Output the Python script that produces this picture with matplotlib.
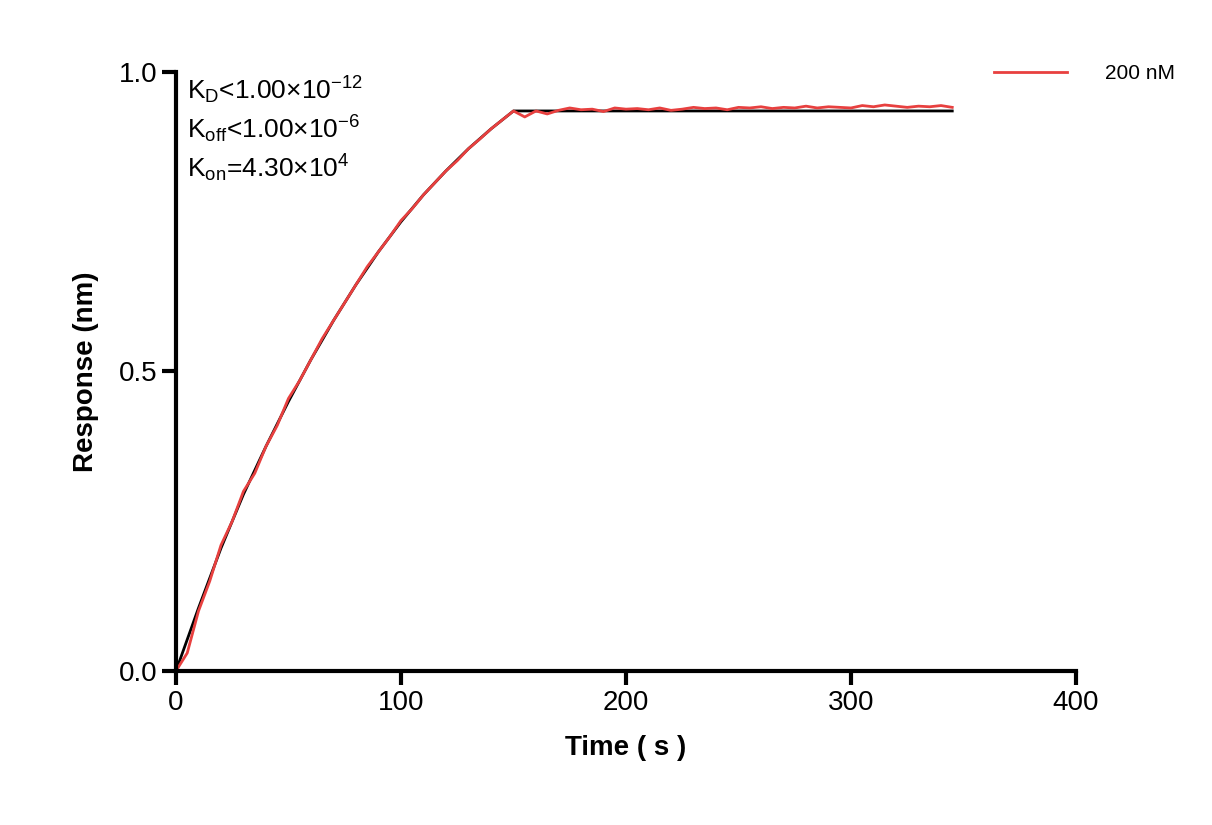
import matplotlib
matplotlib.use("Agg")
import matplotlib.pyplot as plt
plt.rcParams["font.family"] = "Liberation Sans"
plt.rcParams["mathtext.fontset"] = "custom"
plt.rcParams["mathtext.rm"] = "Liberation Sans"
plt.rcParams["mathtext.it"] = "Liberation Sans"

fit_t = [0, 10, 20, 30, 40, 50, 60, 70, 80, 90, 100, 110, 120, 130, 140, 150, 345]
fit_r = [0, 0.105, 0.205, 0.295, 0.375, 0.45, 0.52, 0.585, 0.645, 0.70, 0.75, 0.795, 0.835, 0.872, 0.905, 0.935, 0.935]

data_t = [0, 5, 10, 15, 20, 25, 30, 35, 40, 45, 50, 55, 60, 65, 70, 75, 80, 85, 90, 95, 100,
          105, 110, 115, 120, 125, 130, 135, 140, 145, 150, 155, 160, 165, 170, 175, 180, 185,
          190, 195, 200, 205, 210, 215, 220, 225, 230, 235, 240, 245, 250, 255, 260, 265, 270,
          275, 280, 285, 290, 295, 300, 305, 310, 315, 320, 325, 330, 335, 340, 345]
data_r = [0, 0.03, 0.10, 0.15, 0.21, 0.25, 0.30, 0.33, 0.375, 0.41, 0.455, 0.485, 0.52, 0.555, 0.585, 0.615,
          0.645, 0.675, 0.70, 0.725, 0.752, 0.772, 0.795, 0.815, 0.835, 0.852, 0.872, 0.888, 0.905, 0.92, 0.935,
          0.925, 0.935, 0.93, 0.936, 0.94, 0.937, 0.938, 0.934, 0.94, 0.938, 0.939, 0.937, 0.94, 0.936,
          0.938, 0.941, 0.939, 0.94, 0.937, 0.941, 0.94, 0.942, 0.939, 0.941, 0.94, 0.943, 0.94, 0.942,
          0.941, 0.94, 0.944, 0.942, 0.945, 0.943, 0.941, 0.943, 0.942, 0.944, 0.941]

fig = plt.figure(figsize=(12.12, 8.25), dpi=100)
ax = fig.add_axes([0.1452, 0.1867, 0.7426, 0.726])
ax.plot(fit_t, fit_r, color="black", lw=2)
ax.plot(data_t, data_r, color="#e8403f", lw=2, label="200 nM")
ax.set_xlim(0, 400)
ax.set_ylim(0, 1.0)
ax.set_xticks([0, 100, 200, 300, 400])
ax.set_yticks([0, 0.5, 1.0])
ax.set_yticklabels(["0.0", "0.5", "1.0"])
for s in ["top", "right"]:
    ax.spines[s].set_visible(False)
for s in ["left", "bottom"]:
    ax.spines[s].set_linewidth(3)
ax.tick_params(width=3, length=10, labelsize=20, direction="out")
ax.set_xlabel("Time ( s )", fontsize=20, fontweight="bold", labelpad=14)
ax.set_ylabel("Response (nm)", fontsize=20, fontweight="bold", labelpad=14)
ax.text(0.012, 0.995, r"K$_\mathregular{D}$<1.00×10$^{-12}$", transform=ax.transAxes, fontsize=19, va="top")
ax.text(0.012, 0.93, r"K$_\mathregular{off}$<1.00×10$^{-6}$", transform=ax.transAxes, fontsize=19, va="top")
ax.text(0.012, 0.865, r"K$_\mathregular{on}$=4.30×10$^{4}$", transform=ax.transAxes, fontsize=19, va="top")
fig.legend(loc="upper left", bbox_to_anchor=(0.805, 0.945), frameon=False, fontsize=15, handlelength=3.5, handletextpad=1.8)
fig.savefig("out.png", dpi=100)
